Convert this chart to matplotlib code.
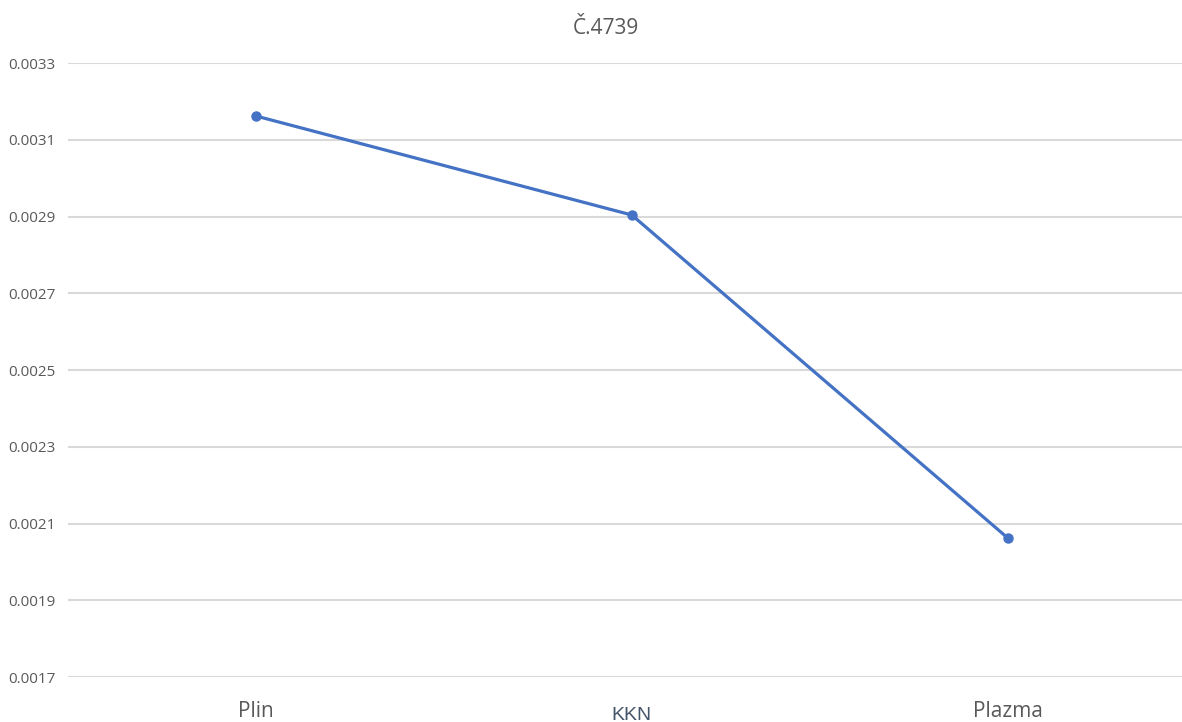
import numpy as np
import matplotlib.pyplot as plt

categories = ['Plin', 'KKN', 'Plazma']
values = [0.003162, 0.002904, 0.0020625]
yticks = [0.0017, 0.0019, 0.0021, 0.0023, 0.0025, 0.0027, 0.0029, 0.0031, 0.0033]

plt.rcParams['font.family'] = ['Open Sans', 'DejaVu Sans']

fig = plt.figure(figsize=(11.82, 7.22), dpi=100)
# plot area runs past the right edge of the picture, as in the reference crop
ax = fig.add_axes([0.0575, 0.0623, 0.954, 0.8504])

x = np.arange(len(categories))
ax.plot(x, values, color='#4472C4', linewidth=2.3, marker='o', markersize=6.5,
        solid_capstyle='round', zorder=3)

ax.set_xlim(-0.5, len(categories) - 0.5)
ax.set_ylim(yticks[0], yticks[-1])
ax.set_yticks(yticks)
ax.set_yticklabels([f'{v:.4f}' for v in yticks])
ax.grid(axis='y', color='#D9D9D9', linewidth=1.5)
ax.set_axisbelow(True)
for s in ax.spines.values():
    s.set_visible(False)
ax.tick_params(axis='y', length=0, pad=9, labelsize=11, labelcolor='#595959')
ax.tick_params(axis='x', length=0, pad=17.5, labelsize=15, labelcolor='#595959')

ax.set_xticks(x)
ax.set_xticklabels(categories)
# the middle label is in a different font in the original, and sits lower
lab = ax.get_xticklabels()[1]
lab.set_fontfamily('Liberation Sans')
lab.set_fontsize(14)
lab.set_color('#44546A')
ax.xaxis.get_major_ticks()[1].set_pad(21.5)

fig.text(0.5125, 0.961, 'Č.4739', ha='center', va='center', fontsize=15, color='#595959')

fig.savefig('out.png', dpi=100)
